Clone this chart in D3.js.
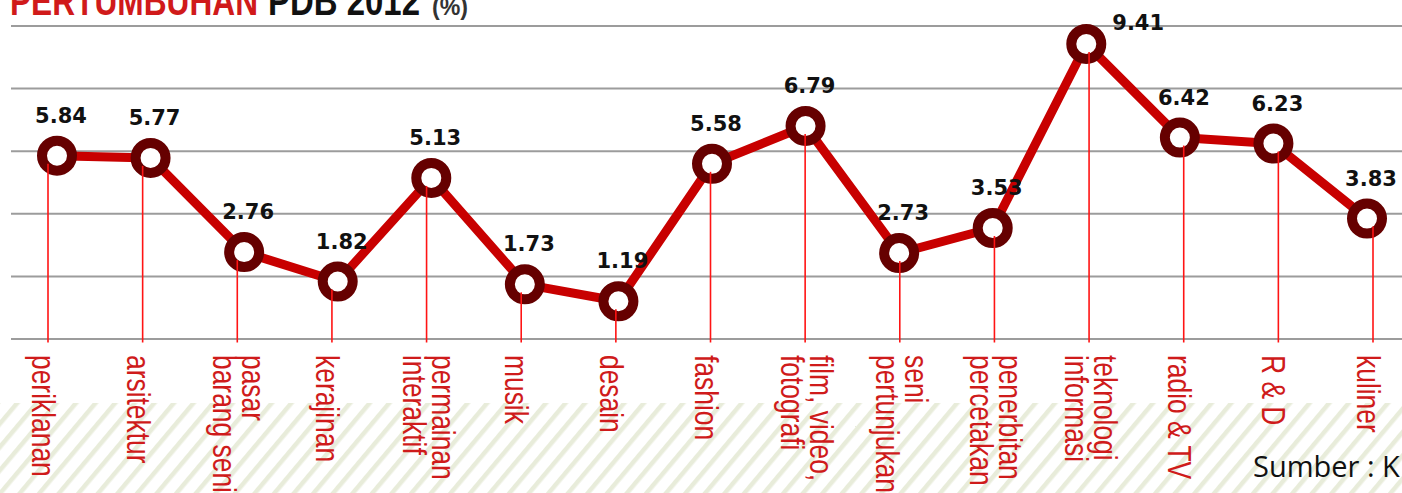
<!DOCTYPE html>
<html>
<head>
<meta charset="utf-8">
<script src="https://cdn.jsdelivr.net/npm/d3@7"></script>
<style>
  html, body { margin: 0; padding: 0; background: #fff; }
  svg { display: block; }
</style>
</head>
<body>
<svg id="chart" width="1402" height="493"></svg>
<script>
// ---- data ----
const categories = [
  ["periklanan"], ["arsitektur"], ["pasar", "barang seni"], ["kerajinan"],
  ["permainan", "interaktif"], ["musik"], ["desain"], ["fashion"],
  ["film, video,", "fotografi"], ["seni", "pertunjukan"], ["penerbitan", "percetakan"],
  ["teknologi", "informasi"], ["radio & TV"], ["R & D"], ["kuliner"]
];
const values = [5.84, 5.77, 2.76, 1.82, 5.13, 1.73, 1.19, 5.58, 6.79, 2.73, 3.53, 9.41, 6.42, 6.23, 3.83];
const gridValues = [0, 2, 4, 6, 8, 10];
const titleRed = "PERTUMBUHAN";
const titleBlack = "PDB 2012";
const titleUnit = "(%)";
const sourceText = "Sumber : K";

// ---- setup ----
const W = 1402, H = 493;
const svg = d3.select("#chart");
const keys = categories.map(c => c.join(" "));
const rows = keys.map((k, i) => ({ key: k, lines: categories[i], value: values[i] }));

const xDot = d3.scalePoint().domain(keys).range([57, 1367]);
const xTick = d3.scalePoint().domain(keys).range([48, 1373]);
const y = d3.scaleLinear().domain([0, 10]).range([338.5, 25.5]);

// hatch pattern
const defs = svg.append("defs");
const pat = defs.append("pattern")
  .attr("id", "hatch")
  .attr("patternUnits", "userSpaceOnUse")
  .attr("width", 15).attr("height", 15)
  .attr("patternTransform", "rotate(40)");
pat.append("rect").attr("width", 15).attr("height", 15).attr("fill", "#fff");
pat.append("rect").attr("x", 0).attr("y", 0).attr("width", 4.5).attr("height", 15).attr("fill", "#e8ecda");

svg.append("rect").attr("x", 0).attr("y", 403).attr("width", W).attr("height", H - 403)
  .attr("fill", "url(#hatch)");

// title (cut at the top)
const titleFont = "'Liberation Sans', Arial, sans-serif";
svg.append("text").attr("x", 10).attr("y", 15)
  .attr("font-family", titleFont).attr("font-weight", "bold").attr("font-size", 40)
  .attr("fill", "#d01a1a").attr("textLength", 248).attr("lengthAdjust", "spacingAndGlyphs")
  .text(titleRed);
svg.append("text").attr("x", 268).attr("y", 15)
  .attr("font-family", titleFont).attr("font-weight", "bold").attr("font-size", 40)
  .attr("fill", "#111").attr("textLength", 152).attr("lengthAdjust", "spacingAndGlyphs")
  .text(titleBlack);
svg.append("text").attr("x", 432).attr("y", 15)
  .attr("font-family", titleFont).attr("font-weight", "bold").attr("font-size", 24)
  .attr("fill", "#333").attr("textLength", 36).attr("lengthAdjust", "spacingAndGlyphs")
  .text(titleUnit);

// gridlines
const grid = svg.append("g").attr("transform", "translate(11,0)")
  .call(d3.axisLeft(y).tickValues(gridValues).tickSize(-(W - 11)).tickFormat(""));
grid.select(".domain").remove();
grid.selectAll(".tick line").attr("stroke", "#9c9c9c").attr("stroke-width", 2);

// connecting line
const line = d3.line().x(d => xDot(d.key)).y(d => y(d.value));
svg.append("path").datum(rows)
  .attr("d", line)
  .attr("fill", "none")
  .attr("stroke", "#c80000")
  .attr("stroke-width", 9)
  .attr("stroke-linejoin", "round");

// circles
svg.append("g").selectAll("circle").data(rows).join("circle")
  .attr("cx", d => xDot(d.key))
  .attr("cy", d => y(d.value))
  .attr("r", 15)
  .attr("fill", "#fff")
  .attr("stroke", "#660000")
  .attr("stroke-width", 10);

// drop lines
svg.append("g").selectAll("line").data(rows).join("line")
  .attr("x1", d => xTick(d.key)).attr("x2", d => xTick(d.key))
  .attr("y1", d => y(d.value) + 8)
  .attr("y2", y(0) + 4)
  .attr("stroke", "#ff1414")
  .attr("stroke-width", 1.6);

// value labels
const maxV = d3.max(values);
svg.append("g").selectAll("text").data(rows).join("text")
  .attr("x", d => d.value === maxV ? xDot(d.key) + 26 : xDot(d.key) + 4)
  .attr("y", d => d.value === maxV ? y(d.value) - 14 : y(d.value) - 33)
  .attr("text-anchor", d => d.value === maxV ? "start" : "middle")
  .attr("font-family", "'DejaVu Sans', sans-serif")
  .attr("font-weight", "bold")
  .attr("font-size", 21)
  .attr("fill", "#111")
  .text(d => d.value.toFixed(2));

// category labels (rotated, condensed)
const labelFont = "'Liberation Sans', Arial, sans-serif";
const lg = svg.append("g").selectAll("text").data(rows).join("text")
  .attr("transform", d => {
    const bx = xTick(d.key) - 16 + (d.lines.length - 1) * 21;
    return `translate(${bx},355) rotate(90) scale(0.8,1)`;
  })
  .attr("font-family", labelFont)
  .attr("font-size", 33)
  .attr("fill", "#cf1b1b");
lg.selectAll("tspan").data(d => d.lines).join("tspan")
  .attr("x", 0)
  .attr("dy", (t, i) => i === 0 ? 0 : 29)
  .text(t => t);

// source
svg.append("text").attr("x", 1253).attr("y", 477)
  .attr("font-family", "'Open Sans', sans-serif")
  .attr("font-size", 29)
  .attr("fill", "#111")
  .text(sourceText);
</script>
</body>
</html>
